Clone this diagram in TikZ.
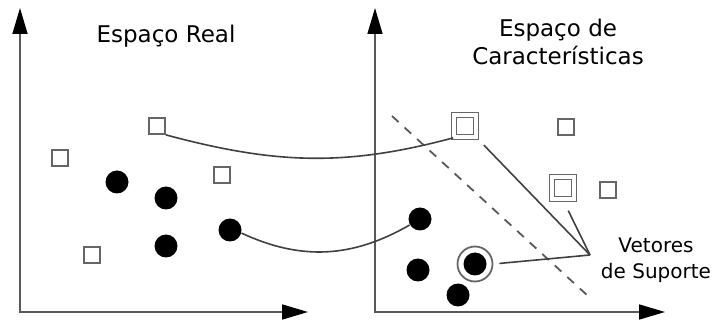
\documentclass[tikz,border=0pt]{standalone}
\usepackage{fontspec}
\setmainfont{DejaVu Sans}
\usetikzlibrary{arrows.meta}

\begin{document}
\begin{tikzpicture}[x=0.5pt, y=-0.5pt,
    sample/.style={rectangle, draw=black!60, line width=0.9pt, minimum size=8pt, inner sep=0pt},
    support/.style={sample, double=white, double distance=1.6pt, minimum size=11pt},
    point/.style={circle, fill=black, minimum size=11.5pt, inner sep=0pt},
    ring/.style={circle, draw=black!60, line width=0.9pt, minimum size=17.5pt, inner sep=0pt},
    axis/.style={draw=black!65, line width=0.8pt,
      {Triangle[length=13pt,width=7.5pt,black]}-{Triangle[length=13pt,width=7.5pt,black]}},
    link/.style={draw=black!75, line width=0.8pt},
    title/.style={font=\fontsize{11.5}{14}\selectfont, align=center}]

  \useasboundingbox (0,0) rectangle (712,320);

  % Axes
  \draw[axis] (20,8) |- (308,312);
  \draw[axis] (375,8) |- (665,312);

  % Titles
  \node[title] (real-title) at (166,36) {Espaço Real};
  \node[title] (feat-title) at (558,42) {Espaço de\\Características};

  % Define nodes: input space
  \node[sample] (sq-a) at (157,126) {};
  \node[sample] (sq-b) at (60,158) {};
  \node[sample] (sq-c) at (222,175) {};
  \node[sample] (sq-d) at (92,255) {};
  \node[point]  (dt-a) at (117,182) {};
  \node[point]  (dt-b) at (166,198) {};
  \node[point]  (dt-c) at (166,246) {};
  \node[point]  (dt-d) at (230,230) {};

  % Define nodes: feature space
  \node[support] (fs-a) at (465,126) {};
  \node[sample]  (fs-b) at (566,127) {};
  \node[support] (fs-c) at (563,188) {};
  \node[sample]  (fs-d) at (608,190) {};
  \node[point]   (fd-a) at (420,219) {};
  \node[point]   (fd-b) at (418,270) {};
  \node[ring]    (fd-ring) at (475,264) {};
  \node[point]   (fd-c) at (475,264) {};
  \node[point]   (fd-d) at (458,295) {};

  % Separating hyperplane
  \coordinate (hp-top) at (392,116);
  \coordinate (hp-bot) at (588,296);
  \draw[black!65, line width=0.9pt, dash pattern=on 4.5pt off 4pt] (hp-top) -- (hp-bot);

  % Mapping between the spaces
  \draw[link] (sq-a.south east) to[out=-15, in=195] (fs-a.south west);
  \draw[link] (dt-d.-15) to[out=-25, in=210] (fd-a.210);

  % Support vectors label
  \coordinate (sv-tip) at (590,255);
  \node[font=\fontsize{10}{13}\selectfont, align=center] (sv-label) at (656,260) {Vetores\\de Suporte};
  \draw[link, shorten <=5pt] (fs-a.south east) -- (sv-tip);
  \draw[link, shorten <=6pt] (fs-c.south) -- (sv-tip);
  \draw[link, shorten <=3pt] (fd-ring.east) -- (sv-tip);

\end{tikzpicture}
\end{document}
